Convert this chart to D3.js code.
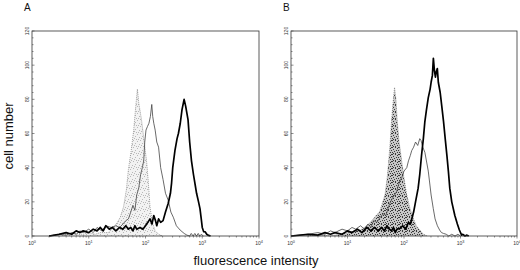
<!DOCTYPE html>
<html>
<head>
<meta charset="utf-8">
<script src="https://cdn.jsdelivr.net/npm/d3@7"></script>
<style>
  html, body { margin: 0; padding: 0; background: #fff; }
  svg { display: block; font-family: "Liberation Sans", Arial, sans-serif; }
</style>
</head>
<body>
<svg id="chart" width="520" height="270"></svg>
<script>
// Flow cytometry histograms, two panels (A, B)
// each series: [fluorescence intensity, cell number]

const panelLabels = ["A", "B"];
const yTicks = [0, 20, 40, 60, 80, 100, 120];
const xDecades = [1, 10, 100, 1000, 10000];

const aControl = [[2,0],[3,1],[5,1.5],[8,1],[10,2],[13,1],[16,2],[22,2],[27,5],[32,8],[36,11],[41,17],[46,27],[50,39],[56,50],[62,62],[67,75],[72,86],[76,78],[85,68],[95,55],[105,43],[113,30],[120,17],[132,8],[148,3],[170,1],[200,0]];
const aThin = [[2,0],[3,1],[4,0.5],[5,2],[6,1],[7,3],[8,2],[10,4],[12,2],[14,5],[17,3],[20,6],[25,5],[30,6],[35,5],[40,7],[45,9],[50,10],[55,14],[60,18],[65,15],[70,24],[76,28],[82,36],[88,40],[93,44],[97,55],[102,62],[108,64],[115,66],[122,70],[129,77],[134,70],[140,66],[148,62],[158,55],[170,52],[185,40],[204,33],[225,25],[251,21],[280,14],[309,11],[350,6],[407,3.5],[480,1.5],[537,0.5],[600,0],[640,1.5],[690,0],[740,1.5],[790,0],[850,1.5],[900,0],[960,1],[1050,0]];
const aThick = [[2,0],[3,1],[4,2],[5,1],[6,3],[7,2],[8,3],[10,2],[12,4],[14,3],[16,5],[18,3],[20,6],[23,4],[26,5],[30,3],[35,5],[40,4],[45,6],[50,4],[55,5],[60,3],[65,6],[70,4],[80,5],[90,4],[100,6],[110,8],[120,10],[130,7],[140,12],[150,9],[158,6],[170,10],[185,8],[204,9],[225,14],[251,19],[275,25],[288,31],[302,40],[330,50],[360,57],[380,60],[410,66],[440,74],[479,80],[510,76],[562,68],[600,55],[646,44],[700,36],[750,30],[794,25],[860,20],[912,16],[960,10],[1000,5],[1060,2.5],[1122,2.5],[1200,1],[1259,0.5],[1400,0]];

const bControl = [[2,0],[3,1],[5,0],[7,1],[10,2],[14,3],[18,4],[22,6],[27,9],[32,12],[37,14],[42,20],[46,24],[50,33],[53,42],[57,55],[60,67],[64,78],[68,87],[72,80],[76,67],[82,55],[91,44],[100,34],[112,24],[128,16],[148,10],[165,6],[190,3.5],[220,1],[260,0]];
const bThin = [[1,0],[2,1],[3,2],[4,1],[5,3],[6,2],[8,4],[10,3],[12,5],[14,4],[17,6],[20,4],[23,7],[26,5],[29,9],[33,8],[38,11],[43,13],[48,12],[52,16],[56,19],[62,22],[68,24],[74,26],[80,30],[86,33],[91,34],[100,38],[112,40],[120,44],[129,47],[137,50],[148,52],[160,55],[175,53],[190,57],[200,56],[215,52],[234,49],[269,38],[302,24],[330,16],[355,10],[390,6],[427,3.5],[460,2],[501,1.5],[560,1],[620,0],[700,1],[800,0],[900,1],[1000,0]];
const bThick = [[1,0],[2,1],[3,0.5],[4,2],[5,1],[6,2],[8,1],[10,3],[12,2],[15,4],[18,2],[22,5],[26,3],[30,5],[35,3],[40,5],[45,3],[50,6],[55,4],[60,3],[65,5],[70,2],[75,4],[85,4.5],[95,6],[107,4],[120,8],[130,7],[148,14],[160,20],[178,28],[190,36],[204,47],[220,57],[234,67],[250,74],[269,81],[290,86],[302,90],[318,94],[331,104],[345,97],[360,93],[372,96],[389,98],[405,90],[437,84],[470,75],[501,67],[540,56],[575,47],[610,38],[646,28],[700,20],[794,12],[880,7],[955,3.5],[1047,0.5],[1100,1],[1200,0],[1300,0.5],[1400,0]];

const panels = [
  { label: panelLabels[0], left: 32, right: 259, control: aControl, thin: aThin, thick: aThick, fill: "url(#stippleLight)" },
  { label: panelLabels[1], left: 291, right: 517, control: bControl, thin: bThin, thick: bThick, fill: "url(#stippleDark)" }
];

const plotTop = 31, plotBottom = 236;
const svg = d3.select("#chart");

// stipple patterns for the control histograms (irregular dot layout, no hatching)
const defs = svg.append("defs");
function stipple(id, bg, dotColor, dots) {
  const pat = defs.append("pattern").attr("id", id)
    .attr("width", 7).attr("height", 7).attr("patternUnits", "userSpaceOnUse");
  pat.append("rect").attr("width", 7).attr("height", 7).attr("fill", bg);
  pat.selectAll("rect.dot").data(dots).join("rect").attr("class", "dot")
    .attr("x", d => d[0]).attr("y", d => d[1])
    .attr("width", 1).attr("height", 1).attr("fill", dotColor);
}
stipple("stippleLight", "#f2f2f2", "#b8b8b8",
  [[0,0],[4,1],[2,3],[6,4],[1,5],[5,6],[3,6]]);
stipple("stippleDark", "#c6c6c6", "#3a3a3a",
  [[0,0],[3,0],[5,1],[1,2],[4,3],[6,3],[2,4],[0,5],[5,5],[3,6],[1,6],[6,0]]);

const y = d3.scaleLinear().domain([0, 120]).range([plotBottom, plotTop]);

for (const p of panels) {
  const x = d3.scaleLog().domain([1, 10000]).range([p.left, p.right]);
  const g = svg.append("g");

  const line = d3.line().x(d => x(d[0])).y(d => y(d[1])).curve(d3.curveLinear);
  const area = d3.area().x(d => x(d[0])).y0(plotBottom).y1(d => y(d[1]));

  // control: stippled area with dotted outline
  g.append("path").attr("d", area(p.control)).attr("fill", p.fill).attr("stroke", "none");
  g.append("path").attr("d", line(p.control)).attr("fill", "none")
    .attr("stroke", "#888").attr("stroke-width", 0.8).attr("stroke-dasharray", "1,1");

  g.append("path").attr("d", line(p.thin)).attr("fill", "none")
    .attr("stroke", "#444").attr("stroke-width", 0.8);
  g.append("path").attr("d", line(p.thick)).attr("fill", "none")
    .attr("stroke", "#000").attr("stroke-width", 1.7).attr("stroke-linejoin", "round");

  // frame
  g.append("rect").attr("x", p.left).attr("y", plotTop)
    .attr("width", p.right - p.left).attr("height", plotBottom - plotTop)
    .attr("fill", "none").attr("stroke", "#333").attr("stroke-width", 0.8);

  // y minor/major ticks
  const yMinor = d3.range(0, 121, 4);
  g.append("g").selectAll("line").data(yMinor).join("line")
    .attr("x1", p.left).attr("x2", d => p.left + (d % 20 === 0 ? 2.5 : 1.5))
    .attr("y1", d => y(d)).attr("y2", d => y(d))
    .attr("stroke", "#444").attr("stroke-width", 0.6);

  g.append("g").selectAll("text").data(yTicks).join("text")
    .attr("transform", d => `translate(${p.left - 3},${y(d)}) rotate(-90)`)
    .attr("text-anchor", "middle")
    .attr("font-size", 5).attr("fill", "#333")
    .text(d => d);

  // x ticks (log minor)
  const xMinor = [];
  for (let e = 0; e < 4; e++) for (let m = 1; m < 10; m++) xMinor.push(m * Math.pow(10, e));
  xMinor.push(10000);
  g.append("g").selectAll("line").data(xMinor).join("line")
    .attr("x1", d => x(d)).attr("x2", d => x(d))
    .attr("y1", plotBottom).attr("y2", d => plotBottom + (xDecades.includes(d) ? 2.5 : 1.5))
    .attr("stroke", "#444").attr("stroke-width", 0.6);

  const xl = g.append("g").selectAll("text").data(xDecades).join("text")
    .attr("x", d => x(d)).attr("y", 245)
    .attr("text-anchor", "middle")
    .attr("font-size", 5).attr("fill", "#333");
  xl.append("tspan").text("10");
  xl.append("tspan").attr("dy", -2).attr("font-size", 3.8).text(d => Math.round(Math.log10(d)));

  svg.append("text").attr("x", p.left - 8).attr("y", 11)
    .attr("font-size", 10).attr("fill", "#111").text(p.label);
}

svg.append("text")
  .attr("transform", "translate(13,136) rotate(-90)")
  .attr("text-anchor", "middle").attr("font-size", 13).attr("fill", "#111")
  .text("cell number");

svg.append("text")
  .attr("x", 256).attr("y", 265)
  .attr("text-anchor", "middle").attr("font-size", 13).attr("fill", "#111")
  .text("fluorescence intensity");
</script>
</body>
</html>
